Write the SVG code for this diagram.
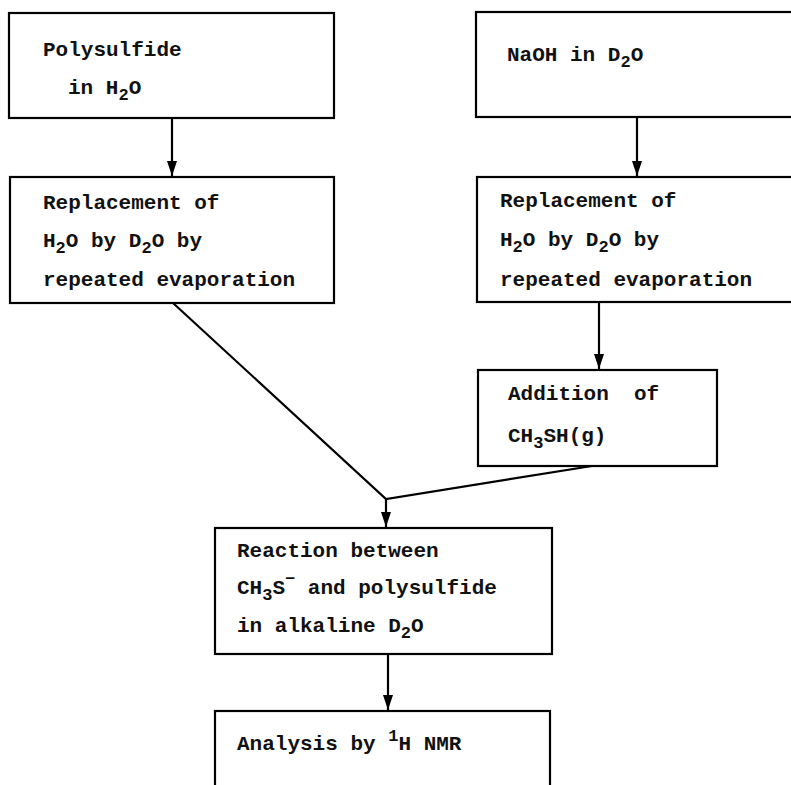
<svg xmlns="http://www.w3.org/2000/svg" width="791" height="785" viewBox="0 0 791 785">
<style>
.box{fill:none;stroke:#000;stroke-width:2.2}
.t{font-family:"Liberation Mono","DejaVu Sans Mono",monospace;font-size:21px;font-weight:bold;fill:#111}
.s{font-size:17px}
.c{fill:none;stroke:#000;stroke-width:2.2}
</style>
<defs>
<marker id="ah" markerUnits="userSpaceOnUse" markerWidth="12" markerHeight="16" refX="6" refY="15" orient="auto-start-reverse" viewBox="0 0 12 16">
<path d="M1,0 L11,0 L6,15 Z" fill="#000" transform="rotate(-90 6 8)"/>
</marker>
<marker id="arr" markerUnits="userSpaceOnUse" markerWidth="16" markerHeight="12" refX="15" refY="6" orient="auto" viewBox="0 0 16 12">
<path d="M0,1 L15,6 L0,11 Z" fill="#000"/>
</marker>
</defs>
<rect width="791" height="785" fill="#fff"/>
<g id="n1">
<rect class="box" x="9" y="13" width="325" height="105"/>
<text class="t" x="43" y="56">Polysulfide</text>
<text class="t" x="68" y="94">in H<tspan class="s" dy="6">2</tspan><tspan dy="-6">O</tspan></text>
</g>
<g id="n2">
<rect class="box" x="10" y="177" width="324" height="126"/>
<text class="t" x="43" y="209">Replacement of</text>
<text class="t" x="43" y="247">H<tspan class="s" dy="6">2</tspan><tspan dy="-6">O by D</tspan><tspan class="s" dy="6">2</tspan><tspan dy="-6">O by</tspan></text>
<text class="t" x="43" y="286">repeated evaporation</text>
</g>
<g id="n3">
<rect class="box" x="476" y="12" width="340" height="105"/>
<text class="t" x="507" y="61">NaOH in D<tspan class="s" dy="6">2</tspan><tspan dy="-6">O</tspan></text>
</g>
<g id="n4">
<rect class="box" x="477" y="177" width="340" height="125"/>
<text class="t" x="500" y="207">Replacement of</text>
<text class="t" x="500" y="246">H<tspan class="s" dy="6">2</tspan><tspan dy="-6">O by D</tspan><tspan class="s" dy="6">2</tspan><tspan dy="-6">O by</tspan></text>
<text class="t" x="500" y="286">repeated evaporation</text>
</g>
<g id="n5">
<rect class="box" x="478" y="370" width="239" height="96"/>
<text class="t" x="508" y="400" xml:space="preserve">Addition  of</text>
<text class="t" x="508" y="442">CH<tspan class="s" dy="6">3</tspan><tspan dy="-6">SH(g)</tspan></text>
</g>
<g id="n6">
<rect class="box" x="215" y="528" width="337" height="126"/>
<text class="t" x="237" y="557">Reaction between</text>
<text class="t" x="237" y="594">CH<tspan class="s" dy="6">3</tspan><tspan dy="-6">S</tspan><tspan class="s" dy="-10">−</tspan><tspan dy="10"> and polysulfide</tspan></text>
<text class="t" x="237" y="632">in alkaline D<tspan class="s" dy="6">2</tspan><tspan dy="-6">O</tspan></text>
</g>
<g id="n7">
<rect class="box" x="215" y="711" width="335" height="100"/>
<text class="t" x="237" y="750">Analysis by <tspan class="s" dy="-9">1</tspan><tspan dy="9">H NMR</tspan></text>
</g>
<g id="connectors">
<line class="c" x1="172" y1="118" x2="172" y2="176" marker-end="url(#arr)"/>
<line class="c" x1="637" y1="117" x2="637" y2="176" marker-end="url(#arr)"/>
<line class="c" x1="599" y1="302" x2="599" y2="369" marker-end="url(#arr)"/>
<polyline class="c" points="173,303 386,499 592,466"/>
<line class="c" x1="386" y1="499" x2="386" y2="527" marker-end="url(#arr)"/>
<line class="c" x1="388" y1="654" x2="388" y2="710" marker-end="url(#arr)"/>
</g>
</svg>
